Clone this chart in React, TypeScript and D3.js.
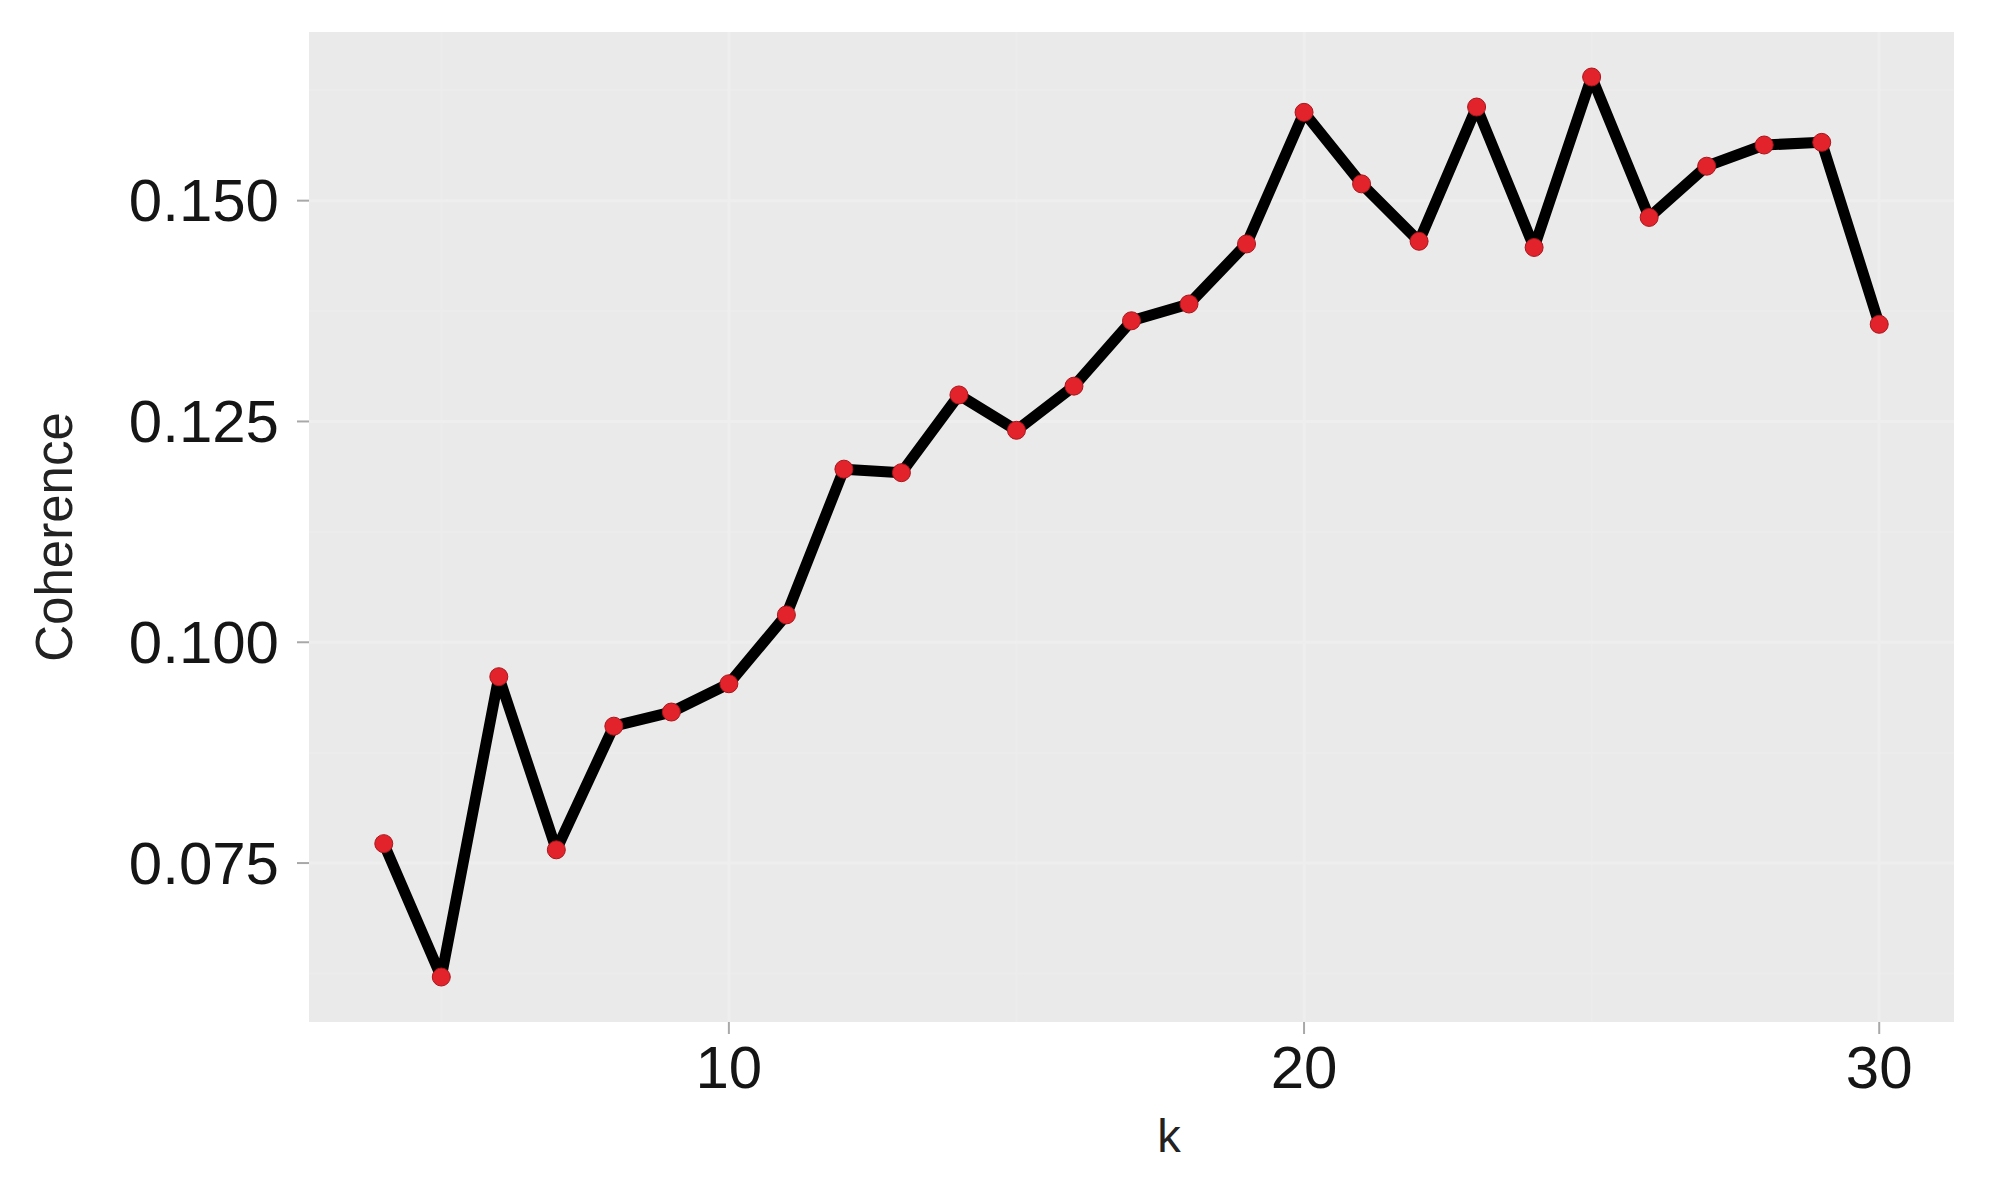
import React from "react";
import * as d3 from "d3";

// k values and coherence scores
const kValues = [4, 5, 6, 7, 8, 9, 10, 11, 12, 13, 14, 15, 16, 17, 18, 19, 20, 21, 22, 23, 24, 25, 26, 27, 28, 29, 30];
const coherence = [
  0.0772, 0.0621, 0.0961, 0.0765, 0.0905, 0.0921, 0.0953, 0.1031, 0.1196, 0.1192,
  0.128, 0.124, 0.129, 0.1364, 0.1383, 0.1451, 0.16, 0.1519, 0.1454, 0.1606,
  0.1447, 0.164, 0.1481, 0.1539, 0.1563, 0.1566, 0.136,
];
const xTicks = [10, 20, 30];
const xMinor = [5, 15, 25];
const yTicks = [0.075, 0.1, 0.125, 0.15];
const yMinor = [0.0625, 0.0875, 0.1125, 0.1375, 0.1625];
const xTitle = "k";
const yTitle = "Coherence";

const W = 2004;
const H = 1188;
const FONT = "'Liberation Sans', Arial, Helvetica, sans-serif";

export default function App() {
  const left = 309;
  const right = 1954;
  const top = 32;
  const bottom = 1022;

  const data = kValues.map((k, i) => ({ k, v: coherence[i] }));

  // ggplot style 5% expansion on both axes
  const [kMin, kMax] = d3.extent(kValues) as [number, number];
  const kPad = (kMax - kMin) * 0.05;
  const xScale = d3.scaleLinear().domain([kMin - kPad, kMax + kPad]).range([left, right]);

  const [vMin, vMax] = d3.extent(coherence) as [number, number];
  const vPad = (vMax - vMin) * 0.05;
  const yScale = d3.scaleLinear().domain([vMin - vPad, vMax + vPad]).range([bottom, top]);

  const line = d3
    .line<{ k: number; v: number }>()
    .x((d) => xScale(d.k))
    .y((d) => yScale(d.v));

  return (
    <svg
      width={W}
      height={H}
      style={{ position: "absolute", left: 0, top: 0, background: "#fff" }}
      fontFamily={FONT}
    >
      {/* panel */}
      <rect x={left} y={top} width={right - left} height={bottom - top} fill="#EAEAEA" />

      {/* grid, very faint in the reference */}
      {yMinor.map((t) => (
        <line key={"ym" + t} x1={left} x2={right} y1={yScale(t)} y2={yScale(t)} stroke="#ECECEC" strokeWidth={2} />
      ))}
      {xMinor.map((t) => (
        <line key={"xm" + t} x1={xScale(t)} x2={xScale(t)} y1={top} y2={bottom} stroke="#ECECEC" strokeWidth={2} />
      ))}
      {yTicks.map((t) => (
        <line key={"y" + t} x1={left} x2={right} y1={yScale(t)} y2={yScale(t)} stroke="#EEEEEE" strokeWidth={3} />
      ))}
      {xTicks.map((t) => (
        <line key={"x" + t} x1={xScale(t)} x2={xScale(t)} y1={top} y2={bottom} stroke="#EEEEEE" strokeWidth={3} />
      ))}

      {/* y axis */}
      {yTicks.map((t) => (
        <g key={"yt" + t}>
          <line x1={left - 12} x2={left} y1={yScale(t)} y2={yScale(t)} stroke="#A8A8A8" strokeWidth={2} />
          <text
            x={left - 30}
            y={yScale(t)}
            textAnchor="end"
            dominantBaseline="central"
            fontSize={60}
            fill="#151515"
          >
            {d3.format(".3f")(t)}
          </text>
        </g>
      ))}

      {/* x axis */}
      {xTicks.map((t) => (
        <g key={"xt" + t}>
          <line x1={xScale(t)} x2={xScale(t)} y1={bottom} y2={bottom + 12} stroke="#A8A8A8" strokeWidth={2} />
          <text x={xScale(t)} y={1088} textAnchor="middle" fontSize={60} fill="#151515">
            {t}
          </text>
        </g>
      ))}

      {/* axis titles */}
      <text x={1169} y={1152} textAnchor="middle" fontSize={47} fill="#222">
        {xTitle}
      </text>
      <text
        transform={`translate(54, 537) rotate(-90)`}
        textAnchor="middle"
        dominantBaseline="central"
        fontSize={51}
        fill="#222"
      >
        {yTitle}
      </text>

      {/* series */}
      <path d={line(data) || ""} fill="none" stroke="#000" strokeWidth={11} strokeLinejoin="round" />
      {data.map((d) => (
        <circle
          key={d.k}
          cx={xScale(d.k)}
          cy={yScale(d.v)}
          r={9}
          fill="#E3232B"
          stroke="#A8161C"
          strokeWidth={1}
        />
      ))}
    </svg>
  );
}
